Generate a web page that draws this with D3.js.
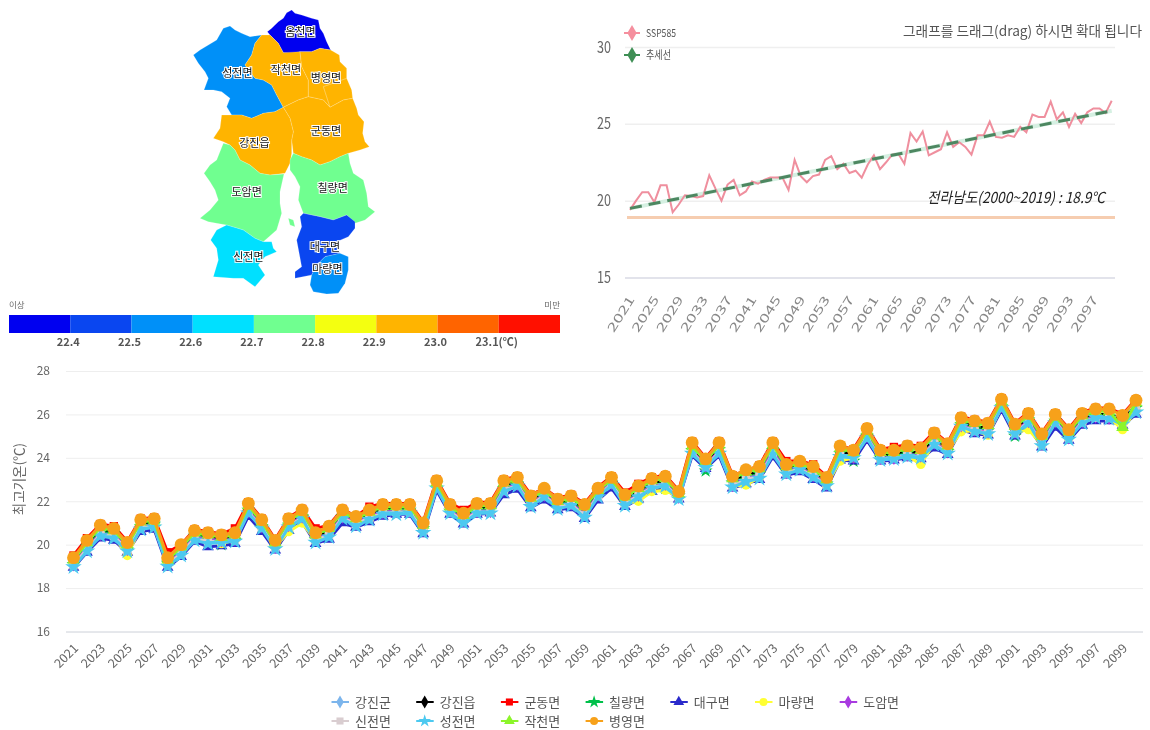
<!DOCTYPE html>
<html>
<head>
<meta charset="utf-8">
<script src="https://cdn.jsdelivr.net/npm/d3@7"></script>
<style>
    html, body { margin: 0; padding: 0; background: #fff; }
    svg { display: block; filter: blur(0.5px); }
    text { font-family: "Noto Sans CJK KR", "Noto Sans", sans-serif; }
</style>
</head>
<body>
<div id="chart"></div>
<script>
// ---- data ----
let years = d3.range(2021, 2101);

let ssp585 = [
    19.4,20.0,20.55,20.55,19.9,21.0,21.0,19.25,19.75,20.35,
    20.3,20.2,20.3,21.65,20.8,20.0,21.05,21.35,20.35,20.6,
    21.25,21.1,21.35,21.5,21.5,21.5,20.7,22.65,21.6,21.2,
    21.6,21.7,22.65,22.9,22.05,22.4,21.8,21.95,21.5,22.35,
    22.95,22.05,22.5,23.0,23.05,22.4,24.4,23.85,24.5,22.95,
    23.15,23.35,24.45,23.5,23.8,23.5,23.0,24.25,24.25,25.15,
    24.15,24.1,24.25,24.15,24.8,24.45,25.6,25.45,25.45,26.45,
    25.3,25.75,24.8,25.65,25.05,25.75,26.0,26.0,25.7,26.5
];
let trendYears = [2021, 2100];
let trendValues = [19.5, 25.85];
let baseValue = 18.9;

let gangjingun = [
    19.15,19.95,20.6,20.5,19.85,20.9,21.0,19.2,19.75,20.35,
    20.3,20.25,20.3,21.65,20.9,19.95,20.95,21.35,20.3,20.55,
    21.35,21.05,21.35,21.6,21.6,21.6,20.75,22.75,21.6,21.2,
    21.65,21.65,22.65,22.85,21.95,22.35,21.85,22.0,21.5,22.35,
    22.9,22.0,22.4,22.8,22.9,22.25,24.4,23.7,24.4,22.85,
    23.15,23.3,24.4,23.45,23.6,23.3,22.85,24.25,24.1,25.05,
    24.05,24.1,24.25,24.15,24.8,24.35,25.6,25.4,25.3,26.45,
    25.25,25.8,24.8,25.75,25.05,25.8,25.95,25.95,25.7,26.35
];
let gangjineup = [
    19.2,20.0,20.65,20.55,19.9,20.95,21.05,19.25,19.8,20.4,
    20.35,20.3,20.35,21.7,20.95,20.0,21.0,21.4,20.35,20.6,
    21.4,21.1,21.4,21.65,21.65,21.65,20.8,22.8,21.65,21.25,
    21.7,21.7,22.7,22.9,22.0,22.4,21.9,22.05,21.55,22.4,
    22.95,22.05,22.45,22.85,22.95,22.3,24.45,23.75,24.45,22.9,
    23.2,23.35,24.45,23.5,23.65,23.35,22.9,24.3,24.15,25.1,
    24.1,24.15,24.3,24.2,24.85,24.4,25.65,25.45,25.35,26.5,
    25.3,25.85,24.85,25.8,25.1,25.85,26.0,26.0,25.75,26.4
];
let gundong = [
    19.5,20.3,20.95,20.85,20.15,21.2,21.25,19.65,20.0,20.7,
    20.6,20.5,20.75,21.95,21.2,20.25,21.25,21.65,20.75,20.9,
    21.65,21.3,21.75,21.9,21.9,21.9,21.05,23.0,21.9,21.6,
    21.95,21.95,23.0,23.15,22.3,22.6,22.15,22.3,21.9,22.65,
    23.15,22.4,22.8,23.1,23.2,22.5,24.75,24.0,24.75,23.2,
    23.4,23.65,24.75,23.85,23.85,23.7,23.15,24.55,24.4,25.4,
    24.4,24.5,24.6,24.55,25.2,24.7,25.9,25.75,25.65,26.75,
    25.6,26.1,25.15,26.05,25.35,26.1,26.3,26.3,26.0,26.7
];
let chilyang = [
    19.1,19.9,20.55,20.5,19.75,20.85,20.95,19.15,19.7,20.4,
    20.3,20.0,20.2,21.6,20.85,19.95,20.9,21.3,20.25,20.5,
    21.3,21.1,21.25,21.55,21.6,21.6,20.75,22.8,21.55,21.2,
    21.6,21.6,22.6,22.8,21.95,22.3,21.85,21.95,21.5,22.3,
    22.85,22.0,22.35,22.75,22.6,22.25,24.35,23.4,24.4,22.85,
    23.1,23.25,24.35,23.4,23.55,23.25,22.8,24.2,23.85,25.0,
    24.0,24.05,24.2,24.05,24.75,24.3,25.55,25.3,25.25,26.35,
    25.0,25.75,24.75,25.7,25.0,25.75,25.9,25.9,25.6,26.3
];
let daegu = [
    18.95,19.65,20.3,20.2,19.65,20.6,20.7,18.95,19.45,20.15,
    19.9,19.95,20.05,21.3,20.6,19.75,20.65,21.05,20.05,20.25,
    21.0,20.8,21.05,21.3,21.4,21.4,20.5,22.5,21.4,20.95,
    21.4,21.45,22.3,22.55,21.7,22.05,21.6,21.7,21.2,22.05,
    22.6,21.75,22.1,22.45,22.6,22.1,24.1,23.5,24.1,22.6,
    22.8,23.0,24.05,23.2,23.35,23.0,22.6,23.9,23.85,24.8,
    23.85,23.9,24.0,23.95,24.45,24.15,25.3,25.1,25.05,26.2,
    25.0,25.45,24.5,25.4,24.8,25.5,25.7,25.7,25.5,26.0
];
let maryang = [
    19.05,19.8,20.5,20.4,19.5,20.8,20.85,19.1,19.6,20.3,
    20.2,20.05,20.2,21.5,20.8,19.9,20.6,21.0,20.2,20.45,
    21.25,20.95,21.2,21.45,21.5,21.5,20.65,22.65,21.5,21.1,
    21.5,21.5,22.5,22.75,21.85,22.25,21.75,21.85,21.35,22.25,
    22.8,21.9,22.0,22.45,22.5,22.2,24.25,23.6,24.3,22.7,
    22.75,23.1,24.2,23.35,23.5,23.2,22.75,23.85,24.0,24.95,
    23.95,24.0,24.1,23.7,24.7,24.3,25.2,25.25,25.05,26.35,
    25.15,25.3,24.6,25.65,24.9,25.65,25.9,25.85,25.3,26.2
];
let doam = [
    19.1,19.85,20.5,20.45,19.8,20.85,20.9,19.15,19.65,20.35,
    20.25,20.2,20.25,21.55,20.85,19.9,20.9,21.3,20.25,20.5,
    21.3,21.0,21.3,21.5,21.55,21.55,20.7,22.7,21.55,21.15,
    21.55,21.55,22.55,22.8,21.9,22.3,21.8,21.9,21.4,22.3,
    22.85,21.95,22.3,22.7,22.8,22.2,24.3,23.65,24.3,22.75,
    23.05,23.2,24.3,23.35,23.55,23.2,22.8,24.15,24.05,25.0,
    24.0,24.0,24.15,24.1,24.7,24.3,25.5,25.3,25.2,26.4,
    25.2,25.7,24.7,25.7,24.95,25.7,25.9,25.85,25.6,26.25
];
let sinjeon = [
    19.05,19.8,20.45,20.4,19.75,20.8,20.85,19.1,19.6,20.3,
    20.15,20.15,20.2,21.5,20.8,19.85,20.85,21.25,20.2,20.45,
    21.25,20.95,21.25,21.45,21.5,21.5,20.65,22.65,21.5,21.1,
    21.5,21.5,22.5,22.75,21.85,22.25,21.75,21.85,21.35,22.25,
    22.8,21.9,22.25,22.65,22.75,22.15,24.25,23.6,24.25,22.7,
    23.0,23.15,24.2,23.3,23.5,23.15,22.75,24.1,24.05,24.95,
    23.95,24.0,24.1,24.05,24.65,24.25,25.45,25.25,25.15,26.35,
    25.15,25.65,24.6,25.65,24.9,25.65,25.85,25.85,25.55,26.2
];
let seongjeon = [
    18.97,19.7,20.4,20.3,19.7,20.7,20.8,19.0,19.5,20.2,
    20.05,20.1,20.15,21.45,20.75,19.8,20.8,21.2,20.1,20.35,
    21.2,20.85,21.15,21.4,21.4,21.45,20.55,22.6,21.45,21.0,
    21.45,21.45,22.45,22.7,21.75,22.2,21.65,21.8,21.25,22.2,
    22.75,21.8,22.2,22.6,22.7,22.1,24.2,23.55,24.2,22.65,
    22.9,23.05,24.15,23.25,23.45,23.1,22.7,24.05,24.0,24.9,
    23.9,23.95,24.05,24.0,24.6,24.2,25.45,25.2,25.1,26.3,
    25.1,25.6,24.55,25.6,24.85,25.6,25.85,25.8,25.55,26.1
];
let jakcheon = [
    19.3,20.1,20.8,20.65,20.0,21.05,21.1,19.3,19.9,20.55,
    20.45,20.35,20.45,21.8,21.05,20.1,21.1,21.5,20.45,20.75,
    21.5,21.2,21.5,21.75,21.75,21.75,20.9,22.85,21.75,21.35,
    21.8,21.8,22.85,23.0,22.15,22.5,22.0,22.15,21.75,22.5,
    23.0,22.2,22.6,22.95,23.05,22.35,24.55,23.85,24.6,23.05,
    23.35,23.5,24.6,23.6,23.75,23.5,23.0,24.45,24.25,25.25,
    24.25,24.25,24.45,24.35,25.05,24.55,25.75,25.6,25.5,26.6,
    25.45,25.95,25.0,25.9,25.2,25.95,26.15,26.15,25.4,26.55
];
let byeongyeong = [
    19.4,20.2,20.9,20.75,20.1,21.15,21.2,19.4,20.0,20.65,
    20.55,20.45,20.55,21.9,21.15,20.2,21.2,21.6,20.55,20.85,
    21.6,21.3,21.6,21.85,21.85,21.85,21.0,22.95,21.85,21.45,
    21.9,21.9,22.95,23.1,22.25,22.6,22.1,22.25,21.85,22.6,
    23.1,22.3,22.7,23.05,23.15,22.45,24.7,23.95,24.7,23.15,
    23.45,23.6,24.7,23.7,23.85,23.6,23.1,24.55,24.35,25.35,
    24.35,24.35,24.55,24.45,25.15,24.65,25.85,25.7,25.6,26.7,
    25.55,26.05,25.1,26.0,25.3,26.05,26.25,26.25,25.95,26.65
];

let seriesNames = ["강진군","강진읍","군동면","칠량면","대구면","마량면","도암면","신전면","성전면","작천면","병영면"];
let seriesValues = [gangjingun,gangjineup,gundong,chilyang,daegu,maryang,doam,sinjeon,seongjeon,jakcheon,byeongyeong];

// colour classes of the map
let mapBreaks = [22.4,22.5,22.6,22.7,22.8,22.9,23.0,23.1];
let mapColors = ["#0000f0","#0a46f0","#0090f8","#00e0ff","#70ff90","#f4ff10","#ffb400","#ff6400","#ff1000"];
let regionNames = ["옴천면","성전면","작천면","병영면","군동면","강진읍","도암면","칠량면","신전면","대구면","마량면"];
let regionValues = [22.35,22.55,22.95,22.95,22.95,22.95,22.75,22.75,22.65,22.45,22.55];

// region outlines, traced in the units of the source image
let regionShapes = [
    [[[262,95],[275,85],[295,65],[310,55],[320,38],[335,30],[345,40],[365,45],[395,55],[415,60],[420,85],[430,100],[440,125],[452,150],[420,145],[395,155],[360,155],[340,160],[310,158],[295,130],[270,105]]],
    [[[40,165],[60,150],[85,135],[110,120],[130,85],[150,78],[165,90],[185,100],[210,110],[245,105],[225,130],[215,165],[195,195],[225,235],[250,240],[275,255],[290,285],[310,322],[285,335],[250,340],[215,355],[185,345],[155,345],[140,320],[150,295],[125,275],[100,270],[72,270],[85,235],[75,215],[55,190]]],
    [[[245,105],[270,105],[295,130],[310,158],[360,155],[365,200],[385,240],[385,290],[355,300],[310,322],[290,285],[275,255],[250,240],[225,235],[195,195],[215,165],[225,130]]],
    [[[360,155],[395,155],[420,145],[452,150],[478,165],[480,185],[500,205],[500,235],[430,260],[450,322],[430,300],[385,290],[385,240],[365,200]],
     [[430,260],[500,235],[515,270],[518,295],[490,300],[450,322]]],
    [[[310,322],[355,300],[385,290],[430,300],[450,322],[490,300],[518,295],[530,325],[535,345],[552,365],[548,400],[555,425],[568,440],[540,450],[505,460],[480,470],[450,485],[420,495],[395,480],[365,470],[340,460],[335,420],[340,395],[330,355]]],
    [[[125,345],[155,345],[185,345],[215,355],[250,340],[285,335],[310,322],[330,355],[340,395],[335,420],[335,460],[330,490],[315,520],[270,525],[240,520],[210,495],[180,480],[165,450],[150,435],[130,425],[100,415],[120,385]]],
    [[[130,430],[150,435],[165,450],[180,480],[210,495],[240,520],[270,525],[312,522],[300,575],[300,610],[305,640],[290,690],[250,725],[225,715],[190,690],[140,675],[110,670],[85,665],[60,655],[90,630],[115,600],[105,570],[90,545],[72,520],[90,495],[110,480]]],
    [[[340,460],[365,470],[395,480],[420,495],[450,485],[480,470],[505,460],[510,490],[520,520],[550,540],[560,580],[565,620],[585,635],[555,660],[525,670],[500,645],[460,660],[420,650],[370,640],[355,600],[360,560],[345,530],[330,510],[330,480]],
     [[325,655],[340,660],[345,680],[330,675]]],
    [[[140,675],[190,690],[225,715],[250,725],[275,725],[280,745],[290,755],[255,770],[235,795],[255,825],[225,860],[190,835],[160,835],[100,830],[115,780],[110,745],[92,720],[110,690]]],
    [[[370,640],[420,650],[460,660],[500,645],[525,665],[525,685],[505,710],[470,725],[480,760],[435,770],[410,795],[395,825],[345,835],[345,815],[365,800],[350,720],[365,680],[360,650]]],
    [[[480,760],[505,770],[505,810],[495,850],[475,880],[440,882],[400,875],[390,855],[395,825],[410,795],[435,770]]]
];
let regionLabelSpots = [[361,95],[172,220],[318,210],[438,235],[438,393],[223,430],[200,575],[458,565],[205,770],[435,742],[442,808]];

let svg = d3.select("#chart").append("svg").attr("width", 1150).attr("height", 730);

function drawMap(){
    let g = svg.append("g");
    let color = d3.scaleThreshold().domain(mapBreaks).range(mapColors);
    let projection = d3.geoIdentity().scale(1/3).translate([180, 0]);
    let path = d3.geoPath(projection);

    let features = regionNames.map(function(name, i){
        return {
            type: "Feature",
            properties: { name: name, value: regionValues[i], spot: regionLabelSpots[i] },
            // geojson rings have to be closed, d3 drops the last point otherwise
            geometry: { type: "MultiPolygon", coordinates: regionShapes[i].map(function(r){ return [r.concat([r[0]])] }) }
        }
    });

    g.selectAll("path")
        .data(features)
        .enter()
        .append("path")
        .attr("d", path)
        .style("fill", function(d){ return color(d.properties.value) })
        .style("stroke", "#fff")
        .style("stroke-opacity", 0.3)
        .style("stroke-width", 0.6)
        .style("stroke-linejoin", "round");

    g.selectAll("text")
        .data(features)
        .enter()
        .append("text")
        .attr("x", function(d){ return projection(d.properties.spot)[0] })
        .attr("y", function(d){ return projection(d.properties.spot)[1] })
        .attr("text-anchor", "middle")
        .attr("dy", "0.36em")
        .style("font-size", "11px")
        .style("fill", "#111")
        .style("stroke", "#fff")
        .style("stroke-width", 2)
        .style("paint-order", "stroke")
        .text(function(d){ return d.properties.name });

    // colour bar
    let x = d3.scaleLinear().domain([0, mapColors.length]).range([9, 560]);
    let bar = svg.append("g");
    bar.selectAll("rect")
        .data(mapColors)
        .enter()
        .append("rect")
        .attr("x", function(d,i){ return x(i) })
        .attr("y", 315)
        .attr("width", function(d,i){ return x(i+1) - x(i) })
        .attr("height", 18)
        .style("fill", function(d){ return d });

    bar.selectAll(".brk")
        .data(mapBreaks)
        .enter()
        .append("text")
        .attr("class", "brk")
        .attr("x", function(d,i){ return x(i+1) - 2 })
        .attr("y", 346)
        .attr("text-anchor", "middle")
        .style("font-size", "11px")
        .style("font-weight", "700")
        .style("fill", "#555")
        .text(function(d,i){ return d.toFixed(1) + (i == mapBreaks.length-1 ? "(℃)" : "") });

    bar.append("text").attr("x", 9).attr("y", 308)
        .style("font-size", "8.5px").style("fill", "#666").text("이상");
    bar.append("text").attr("x", 560).attr("y", 308).attr("text-anchor", "end")
        .style("font-size", "8.5px").style("fill", "#666").text("미만");
}

function drawTopChart(){
    let g = svg.append("g");
    let x = d3.scalePoint().domain(years).range([630, 1111.7]);
    let y = d3.scaleLinear().domain([15, 30]).range([277.5, 47]);

    let axisY = d3.axisLeft(y).tickValues([15,20,25,30]).tickSize(-490).tickPadding(14);
    let gy = g.append("g").attr("transform", "translate(625,0)").call(axisY);
    gy.select(".domain").remove();
    gy.selectAll("line").style("stroke", function(d){ return d == 15 ? "#d8dae4" : "#efefef" }).style("stroke-width", 1.5);
    gy.selectAll("text")
        .style("font-size", "16px").style("fill", "#666")
        .attr("textLength", 14).attr("lengthAdjust", "spacingAndGlyphs");

    let axisX = d3.axisBottom(x).tickValues(years.filter(function(d,i){ return i % 4 == 0 })).tickSize(0);
    let gx = g.append("g").attr("transform", "translate(0,297)").call(axisX);
    gx.select(".domain").remove();
    gx.selectAll("text")
        .attr("text-anchor", "end")
        .attr("transform", "translate(1,0) rotate(-58)")
        .attr("x", 0).attr("y", 0).attr("dy", "0.35em")
        .attr("textLength", 40).attr("lengthAdjust", "spacingAndGlyphs")
        .style("font-size", "12px").style("fill", "#888");

    // 18.9 base line
    g.append("line")
        .attr("x1", 627).attr("x2", 1115)
        .attr("y1", y(baseValue)).attr("y2", y(baseValue))
        .style("stroke", "#f6cdb0").style("stroke-width", 3);

    let line = d3.line().x(function(d){ return x(d[0]) }).y(function(d){ return y(d[1]) });
    let trend = trendYears.map(function(d,i){ return [d, trendValues[i]] });

    g.append("path").attr("d", line(trend))
        .style("fill", "none").style("stroke", "#d5f0e2").style("stroke-width", 4);
    g.append("path").attr("d", line(years.map(function(d,i){ return [d, ssp585[i]] })))
        .style("fill", "none").style("stroke", "#ef8f9e").style("stroke-width", 2);
    g.append("path").attr("d", line(trend))
        .style("fill", "none").style("stroke", "#4d8761").style("stroke-width", 3)
        .style("stroke-dasharray", "12,7");

    // legend
    let legendRows = [
        {name: "SSP585", color: "#f58f9e", y: 33, width: 30},
        {name: "추세선", color: "#3f8f55", y: 55, width: 25}
    ];
    legendRows.forEach(function(row){
        g.append("line").attr("x1", 624).attr("x2", 640).attr("y1", row.y).attr("y2", row.y)
            .style("stroke", row.color).style("stroke-width", 2);
        g.append("path").attr("transform", "translate(632,"+row.y+")")
            .attr("d", d3.symbol().type(d3.symbolDiamond).size(75)())
            .style("fill", row.color);
        g.append("text").attr("x", 646).attr("y", row.y).attr("dy", "0.36em")
            .attr("textLength", row.width).attr("lengthAdjust", "spacingAndGlyphs")
            .style("font-size", "11px").style("fill", "#555").text(row.name);
    });

    g.append("text").attr("x", 903).attr("y", 31).attr("dy", "0.36em")
        .attr("textLength", 239).attr("lengthAdjust", "spacingAndGlyphs")
        .style("font-size", "14px").style("fill", "#555")
        .text("그래프를 드래그(drag) 하시면 확대 됩니다");

    g.append("text").attr("x", 927).attr("y", 198).attr("dy", "0.36em")
        .attr("textLength", 178).attr("lengthAdjust", "spacingAndGlyphs")
        .style("font-size", "15px").style("font-style", "italic").style("fill", "#222")
        .text("전라남도(2000~2019) : 18.9℃");
}

function drawBottomChart(){
    let g = svg.append("g");
    let x = d3.scalePoint().domain(years).range([73.5, 1136]);
    let y = d3.scaleLinear().domain([16, 28]).range([631.5, 371]);

    let colors = ["#7cb5ec","#000000","#ff0000","#00c04a","#2a2acb","#ffff33","#a83be0","#d9cdd0","#4cc9f0","#8cf52a","#f7a11a"];
    let symbols = [d3.symbolDiamond,d3.symbolDiamond,d3.symbolSquare,d3.symbolStar,d3.symbolTriangle,d3.symbolCircle,d3.symbolDiamond,d3.symbolSquare,d3.symbolStar,d3.symbolTriangle,d3.symbolCircle];
    let sizes = [60,60,70,60,60,70,60,70,85,70,130];

    let axisY = d3.axisLeft(y).tickValues(d3.range(16, 29, 2)).tickSize(-1077).tickPadding(16);
    let gy = g.append("g").attr("transform", "translate(66,0)").call(axisY);
    gy.select(".domain").remove();
    gy.selectAll("line").style("stroke", function(d){ return d == 16 ? "#ccd0d8" : "#eeeeee" });
    gy.selectAll("text").style("font-size", "12px").style("fill", "#666");

    let axisX = d3.axisBottom(x).tickValues(years.filter(function(d,i){ return i % 2 == 0 })).tickSize(0);
    let gx = g.append("g").attr("transform", "translate(0,646)").call(axisX);
    gx.select(".domain").remove();
    gx.selectAll("text")
        .attr("text-anchor", "end")
        .attr("transform", "translate(2,0) rotate(-45)")
        .attr("x", 0).attr("y", 0).attr("dy", "0.35em")
        .style("font-size", "12.5px").style("fill", "#666");

    g.append("text")
        .attr("transform", "translate(19,479) rotate(-90)")
        .attr("text-anchor", "middle")
        .attr("dy", "0.36em")
        .style("font-size", "13.5px").style("fill", "#666")
        .text("최고기온(℃)");

    let line = d3.line().x(function(d,i){ return x(years[i]) }).y(function(d){ return y(d) });

    seriesValues.forEach(function(values, s){
        g.append("path").attr("d", line(values))
            .style("fill", "none").style("stroke", colors[s]).style("stroke-width", 3);
        g.selectAll(".m"+s)
            .data(values)
            .enter()
            .append("path")
            .attr("class", "m"+s)
            .attr("transform", function(d,i){ return "translate("+[x(years[i]),y(d)]+")" })
            .attr("d", d3.symbol().type(symbols[s]).size(sizes[s])())
            .style("fill", colors[s]);
    });

    // legend
    let itemX = d3.scaleLinear().domain([0, 1]).range([340, 424.7]);
    let rowY = d3.scalePoint().domain([0, 1]).range([702, 721]);
    seriesNames.forEach(function(name, i){
        let col = i % 7;
        let row = Math.floor(i / 7);
        let cx = itemX(col);
        let cy = rowY(row);
        g.append("line").attr("x1", cx-8.5).attr("x2", cx+9).attr("y1", cy).attr("y2", cy)
            .style("stroke", colors[i]).style("stroke-width", 2);
        g.append("path").attr("transform", "translate("+[cx,cy]+")")
            .attr("d", d3.symbol().type(symbols[i]).size(50)())
            .style("fill", colors[i]);
        g.append("text").attr("x", cx+15).attr("y", cy).attr("dy", "0.36em")
            .style("font-size", "13px").style("fill", "#555").text(name);
    });
}

drawMap();
drawTopChart();
drawBottomChart();
</script>
</body>
</html>
